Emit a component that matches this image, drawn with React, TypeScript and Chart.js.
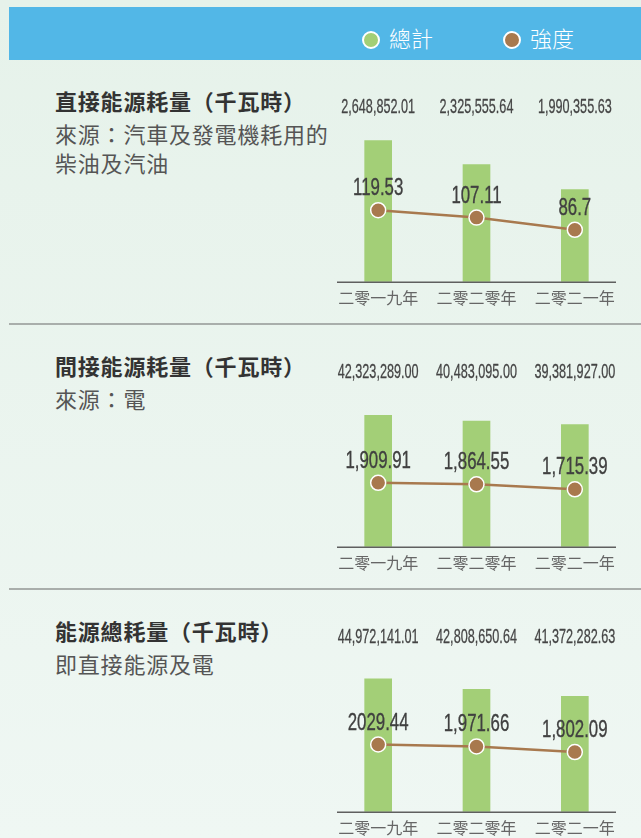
import React, { useEffect, useRef } from "react";
import { Chart, registerables } from "chart.js";

Chart.register(...registerables);

// ---------- data ----------
const years = ["二零一九年", "二零二零年", "二零二一年"];
const legendLabels = ["總計", "強度"];

const directTitle = "直接能源耗量（千瓦時）";
const directSubtitle = ["來源：汽車及發電機耗用的", "柴油及汽油"];
const directTotal = [2648852.01, 2325555.64, 1990355.63];
const directIntensity = [119.53, 107.11, 86.7];
const directIntensityLabels = ["119.53", "107.11", "86.7"];

const indirectTitle = "間接能源耗量（千瓦時）";
const indirectSubtitle = ["來源：電"];
const indirectTotal = [42323289.0, 40483095.0, 39381927.0];
const indirectIntensity = [1909.91, 1864.55, 1715.39];
const indirectIntensityLabels = ["1,909.91", "1,864.55", "1,715.39"];

const overallTitle = "能源總耗量（千瓦時）";
const overallSubtitle = ["即直接能源及電"];
const overallTotal = [44972141.01, 42808650.64, 41372282.63];
const overallIntensity = [2029.44, 1971.66, 1802.09];
const overallIntensityLabels = ["2029.44", "1,971.66", "1,802.09"];

// hidden axis ranges
const directBarRange = [752000, 2925000];
const directLineRange = [0, 270];
const indirectBarRange = [0, 52100000];
const indirectLineRange = [0, 4830];
const overallBarRange = [17600000, 50930000];
const overallLineRange = [0, 4880];

// ---------- style ----------
const GREEN = "#a3cf77";
const BROWN = "#a8794e";
const BLUE = "#52b7e7";
const CJK = "'Noto Sans CJK TC', 'Noto Sans CJK SC', sans-serif";
const NUM_FONT = "'Liberation Sans Narrow', 'Liberation Sans', 'DejaVu Sans', sans-serif";

function formatTotal(v: number): string {
  return v.toLocaleString("en-US", { minimumFractionDigits: 2, maximumFractionDigits: 2 });
}

function drawCondensed(
  ctx: CanvasRenderingContext2D,
  text: string,
  x: number,
  y: number,
  size: number,
  digitEm: number,
  color: string,
  stroke: number
) {
  ctx.save();
  ctx.font = `${size}px ${NUM_FONT}`;
  const w0 = ctx.measureText("0").width || size * 0.5;
  const sx = (digitEm * size) / w0;
  ctx.translate(x, y);
  ctx.scale(sx, 1);
  ctx.fillStyle = color;
  ctx.strokeStyle = color;
  ctx.lineWidth = stroke;
  ctx.lineJoin = "round";
  ctx.textAlign = "center";
  ctx.textBaseline = "alphabetic";
  ctx.fillText(text, 0, 0);
  if (stroke > 0) ctx.strokeText(text, 0, 0);
  ctx.restore();
}

const labelPlugin = {
  id: "valueLabels",
  afterDatasetsDraw(chart: any, _args: any, opts: any) {
    const ctx: CanvasRenderingContext2D = chart.ctx;
    const xs = chart.scales.x;
    const area = chart.chartArea;
    ctx.save();
    ctx.strokeStyle = "#5f5f5f";
    ctx.lineWidth = 1.5;
    ctx.beginPath();
    ctx.moveTo(xs.left + 8, area.bottom + 0.5);
    ctx.lineTo(xs.right - 8, area.bottom + 0.5);
    ctx.stroke();
    ctx.restore();

    const barMeta = chart.getDatasetMeta(0);
    barMeta.data.forEach((el: any, i: number) => {
      drawCondensed(ctx, opts.totals[i], el.x, area.top - 7, 21, 0.335, "#454545", 0.3);
    });
    const lineMeta = chart.getDatasetMeta(1);
    lineMeta.data.forEach((el: any, i: number) => {
      drawCondensed(ctx, opts.intensity[i], el.x, el.y - 15, 24, 0.39, "#404040", 0.35);
    });
  },
};

type ChartProps = {
  totals: number[];
  intensity: number[];
  intensityLabels: string[];
  barRange: number[];
  lineRange: number[];
};

function EnergyChart({ totals, intensity, intensityLabels, barRange, lineRange }: ChartProps) {
  const ref = useRef<HTMLCanvasElement>(null);
  useEffect(() => {
    const chart = new Chart(ref.current as HTMLCanvasElement, {
      type: "bar",
      data: {
        labels: years,
        datasets: [
          {
            type: "bar",
            label: legendLabels[0],
            data: totals,
            backgroundColor: GREEN,
            barThickness: 27,
            yAxisID: "y",
            order: 2,
          } as any,
          {
            type: "line",
            label: legendLabels[1],
            data: intensity,
            borderColor: BROWN,
            backgroundColor: BROWN,
            borderWidth: 2.5,
            pointRadius: 7.5,
            pointBorderColor: "#ffffff",
            pointBorderWidth: 1.5,
            pointBackgroundColor: BROWN,
            tension: 0,
            yAxisID: "y1",
            order: 1,
          } as any,
        ],
      },
      options: {
        responsive: false,
        animation: false,
        layout: { padding: { left: 8, right: 17, top: 40, bottom: 5 } },
        plugins: {
          legend: { display: false },
          tooltip: { enabled: false },
          valueLabels: {
            totals: totals.map(formatTotal),
            intensity: intensityLabels,
          },
        } as any,
        scales: {
          x: {
            type: "category",
            offset: true,
            grid: { display: false, drawTicks: false },
            border: { display: false },
            ticks: { color: "#666666", font: { family: CJK, size: 16 }, padding: 7 },
          },
          y: { display: false, min: barRange[0], max: barRange[1] },
          y1: { display: false, min: lineRange[0], max: lineRange[1] },
        },
      },
      plugins: [labelPlugin],
    });
    return () => chart.destroy();
  }, []);
  return (
    <canvas
      ref={ref}
      width={321}
      height={240}
      style={{ position: "absolute", left: 320, top: 20, width: 321, height: 240 }}
    />
  );
}

type SectionProps = ChartProps & {
  index: number;
  title: string;
  subtitle: string[];
  last?: boolean;
};

function Section(p: SectionProps) {
  return (
    <div style={{ position: "absolute", left: 0, top: 60 + 265 * p.index, width: 641, height: 265 }}>
      {!p.last && (
        <div style={{ position: "absolute", left: 9, right: 0, bottom: 0, height: 2, background: "#a9aeab" }} />
      )}
      <div style={{ position: "absolute", left: 55, top: 26, fontFamily: CJK, whiteSpace: "nowrap", letterSpacing: "0.8px" }}>
        <div style={{ fontSize: 22, fontWeight: 700, lineHeight: "29px", color: "#333333", marginBottom: 4 }}>
          {p.title}
        </div>
        {p.subtitle.map((s, i) => (
          <div key={i} style={{ fontSize: 22, lineHeight: "29px", color: "#555555" }}>
            {s}
          </div>
        ))}
      </div>
      <EnergyChart
        totals={p.totals}
        intensity={p.intensity}
        intensityLabels={p.intensityLabels}
        barRange={p.barRange}
        lineRange={p.lineRange}
      />
    </div>
  );
}

function LegendItem({ color, label, x }: { color: string; label: string; x: number }) {
  return (
    <>
      <div
        style={{
          position: "absolute",
          left: x - 9,
          top: 24,
          width: 14,
          height: 14,
          borderRadius: "50%",
          background: color,
          border: "2px solid #ffffff",
        }}
      />
      <div
        style={{
          position: "absolute",
          left: x + 18,
          top: 16,
          fontFamily: CJK,
          fontSize: 22,
          lineHeight: "29px",
          color: "#ffffff",
          fontWeight: 300,
          whiteSpace: "nowrap",
        }}
      >
        {label}
      </div>
    </>
  );
}

export default function App() {
  return (
    <div
      style={{
        position: "absolute",
        left: 0,
        top: 0,
        width: 641,
        height: 838,
        overflow: "hidden",
        background: "linear-gradient(#e6f2ea, #eff7f3)",
      }}
    >
      <div style={{ position: "absolute", left: 9, top: 7, width: 632, height: 53, background: BLUE }}>
        <LegendItem color={GREEN} label={legendLabels[0]} x={362} />
        <LegendItem color={BROWN} label={legendLabels[1]} x={503} />
      </div>
      <Section
        index={0}
        title={directTitle}
        subtitle={directSubtitle}
        totals={directTotal}
        intensity={directIntensity}
        intensityLabels={directIntensityLabels}
        barRange={directBarRange}
        lineRange={directLineRange}
      />
      <Section
        index={1}
        title={indirectTitle}
        subtitle={indirectSubtitle}
        totals={indirectTotal}
        intensity={indirectIntensity}
        intensityLabels={indirectIntensityLabels}
        barRange={indirectBarRange}
        lineRange={indirectLineRange}
      />
      <Section
        index={2}
        last
        title={overallTitle}
        subtitle={overallSubtitle}
        totals={overallTotal}
        intensity={overallIntensity}
        intensityLabels={overallIntensityLabels}
        barRange={overallBarRange}
        lineRange={overallLineRange}
      />
    </div>
  );
}
